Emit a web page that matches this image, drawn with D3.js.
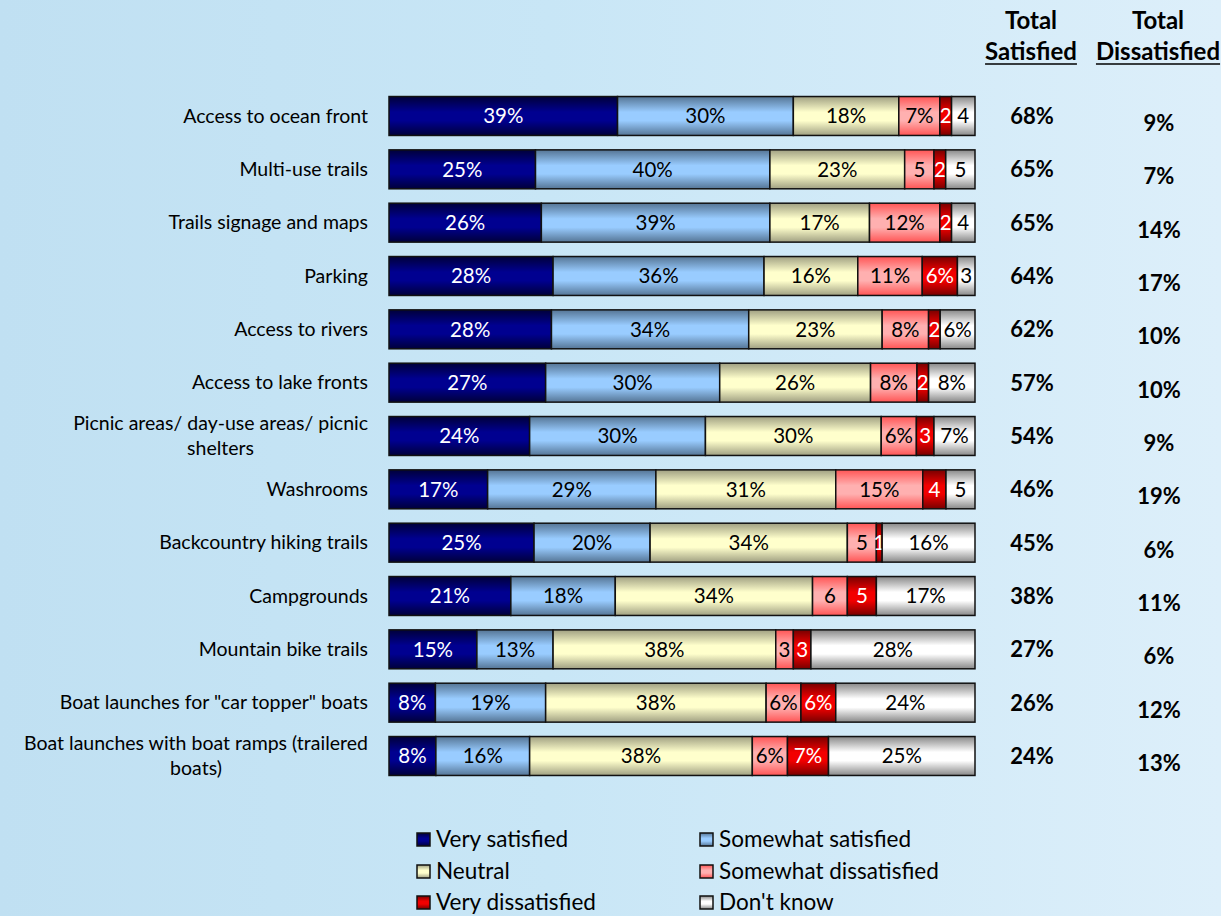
<!DOCTYPE html>
<html>
<head>
<meta charset="utf-8">
<script src="https://cdn.jsdelivr.net/npm/d3@7"></script>
<style>
  html, body { margin: 0; padding: 0; }
  body { width: 1221px; height: 916px; overflow: hidden; font-family: Lato, "Open Sans", sans-serif; }
</style>
</head>
<body>
<svg id="chart" width="1221" height="916"></svg>
<script>
// ---------- DATA ----------
const categories = [
  "Access to ocean front",
  "Multi-use trails",
  "Trails signage and maps",
  "Parking",
  "Access to rivers",
  "Access to lake fronts",
  "Picnic areas/ day-use areas/ picnic|shelters",
  "Washrooms",
  "Backcountry hiking trails",
  "Campgrounds",
  "Mountain bike trails",
  "Boat launches for \"car topper\" boats",
  "Boat launches with boat ramps (trailered|boats)"
];
const seriesNames = ["Very satisfied", "Somewhat satisfied", "Neutral", "Somewhat dissatisfied", "Very dissatisfied", "Don't know"];
const verySatisfied       = [39, 25, 26, 28, 28, 27, 24, 17, 25, 21, 15, 8, 8];
const somewhatSatisfied   = [30, 40, 39, 36, 34, 30, 30, 29, 20, 18, 13, 19, 16];
const neutral             = [18, 23, 17, 16, 23, 26, 30, 31, 34, 34, 38, 38, 38];
const somewhatDissatisfied= [7, 5, 12, 11, 8, 8, 6, 15, 5, 6, 3, 6, 6];
const veryDissatisfied    = [2, 2, 2, 6, 2, 2, 3, 4, 1, 5, 3, 6, 7];
const dontKnow            = [4, 5, 4, 3, 6, 8, 7, 5, 16, 17, 28, 24, 25];
// data labels as printed on the chart (small segments without "%")
const labelsSomewhatDis = ["7%", "5", "12%", "11%", "8%", "8%", "6%", "15%", "5", "6", "3", "6%", "6%"];
const labelsVeryDis     = ["2", "2", "2", "6%", "2", "2", "3", "4", "1", "5", "3", "6%", "7%"];
const labelsDontKnow    = ["4", "5", "4", "3", "6%", "8%", "7%", "5", "16%", "17%", "28%", "24%", "25%"];
const totalSatisfied    = [68, 65, 65, 64, 62, 57, 54, 46, 45, 38, 27, 26, 24];
const totalDissatisfied = [9, 7, 14, 17, 10, 10, 9, 19, 6, 11, 6, 12, 13];

// ---------- STYLE ----------
const fills = [
  {edge: "#00003a", mid: "#000090", text: "#ffffff"},
  {edge: "#557595", mid: "#99ccff", text: "#000000"},
  {edge: "#a0a082", mid: "#ffffcc", text: "#000000"},
  {edge: "#ff5555", mid: "#ffb0b0", text: "#000000"},
  {edge: "#780000", mid: "#f20000", text: "#ffffff"},
  {edge: "#888888", mid: "#ffffff", text: "#000000"}
];

const svg = d3.select("#chart");
const defs = svg.append("defs");

// background
const bg = defs.append("linearGradient").attr("id", "bg").attr("x1", 0).attr("x2", 1).attr("y1", 0).attr("y2", 0);
bg.append("stop").attr("offset", "0%").attr("stop-color", "#c0e0f2");
bg.append("stop").attr("offset", "45%").attr("stop-color", "#c8e6f6");
bg.append("stop").attr("offset", "100%").attr("stop-color", "#ddeffa");
svg.append("rect").attr("width", 1221).attr("height", 916).attr("fill", "url(#bg)");

fills.forEach((f, i) => {
  const g = defs.append("linearGradient").attr("id", "g" + i).attr("x1", 0).attr("x2", 0).attr("y1", 0).attr("y2", 1);
  g.append("stop").attr("offset", "0%").attr("stop-color", f.edge);
  g.append("stop").attr("offset", "40%").attr("stop-color", f.mid);
  g.append("stop").attr("offset", "62%").attr("stop-color", f.mid);
  g.append("stop").attr("offset", "100%").attr("stop-color", f.edge);
});

const rows = categories.map((c, i) => ({
  cat: c,
  s0: verySatisfied[i], s1: somewhatSatisfied[i], s2: neutral[i],
  s3: somewhatDissatisfied[i], s4: veryDissatisfied[i], s5: dontKnow[i]
}));
const keys = ["s0", "s1", "s2", "s3", "s4", "s5"];
const labelFor = (k, i) => {
  if (k === "s3") return labelsSomewhatDis[i];
  if (k === "s4") return labelsVeryDis[i];
  if (k === "s5") return labelsDontKnow[i];
  return rows[i][k] + "%";
};

const stacked = d3.stack().keys(keys).offset(d3.stackOffsetExpand)(rows);

const x = d3.scaleLinear().domain([0, 1]).range([389, 975]);
const y = d3.scaleBand().domain(categories).range([89.33, 782.67]).paddingInner(0.27).paddingOuter(0.135);

const gBars = svg.append("g");
stacked.forEach((layer, si) => {
  const gl = gBars.append("g");
  gl.selectAll("rect").data(layer).join("rect")
    .attr("x", d => x(d[0]))
    .attr("y", d => y(d.data.cat))
    .attr("width", d => x(d[1]) - x(d[0]))
    .attr("height", y.bandwidth())
    .attr("fill", "url(#g" + si + ")")
    .attr("stroke", "#111")
    .attr("stroke-width", 1.5);
  gl.selectAll("text").data(layer).join("text")
    .attr("x", d => (x(d[0]) + x(d[1])) / 2)
    .attr("y", d => y(d.data.cat) + y.bandwidth() / 2)
    .attr("dy", "0.36em")
    .attr("text-anchor", "middle")
    .attr("font-size", 20.5)
    .attr("fill", fills[si].text)
    .text((d, i) => labelFor(keys[si], i));
});

// category labels
const catSize = 19.5;
const gCat = svg.append("g");
categories.forEach(c => {
  const lines = c.split("|");
  const cy = y(c) + y.bandwidth() / 2;
  const t = gCat.append("text")
    .attr("font-size", catSize)
    .attr("fill", "#000");
  if (lines.length === 1) {
    t.attr("x", 368).attr("y", cy).attr("dy", "0.34em").attr("text-anchor", "end").text(lines[0]);
  } else {
    t.attr("x", 368).attr("y", cy - 13).attr("dy", "0.34em").attr("text-anchor", "end").text(lines[0]);
    const w = t.node().getComputedTextLength();
    gCat.append("text")
      .attr("font-size", catSize).attr("fill", "#000")
      .attr("x", 368 - w / 2).attr("y", cy + 12).attr("dy", "0.34em")
      .attr("text-anchor", "middle").text(lines[1]);
  }
});

// totals
const gTot = svg.append("g").attr("font-weight", "bold").attr("font-size", 22).attr("text-anchor", "middle");
gTot.selectAll("text.sat").data(totalSatisfied).join("text").attr("class", "sat")
  .attr("x", 1032).attr("y", (d, i) => y(categories[i]) + y.bandwidth() / 2).attr("dy", "0.36em")
  .text(d => d + "%");
gTot.selectAll("text.dis").data(totalDissatisfied).join("text").attr("class", "dis")
  .attr("x", 1159).attr("y", (d, i) => y(categories[i]) + y.bandwidth() / 2 + 7).attr("dy", "0.36em")
  .text(d => d + "%");

// headers
const headers = [["Total", "Satisfied", 1031], ["Total", "Dissatisfied", 1158]];
headers.forEach(h => {
  svg.append("text").attr("x", h[2]).attr("y", 29).attr("text-anchor", "middle")
    .attr("font-weight", "bold").attr("font-size", 24).text(h[0]);
  const t2 = svg.append("text").attr("x", h[2]).attr("y", 60).attr("text-anchor", "middle")
    .attr("font-weight", "bold").attr("font-size", 24).text(h[1]);
  const w = t2.node().getComputedTextLength();
  svg.append("line").attr("x1", h[2] - w / 2).attr("x2", h[2] + w / 2)
    .attr("y1", 64).attr("y2", 64).attr("stroke", "#000").attr("stroke-width", 1.5);
});

// legend
const legPos = [[417, 839], [700, 839], [417, 871], [700, 871], [417, 902], [700, 902]];
const gLeg = svg.append("g");
seriesNames.forEach((n, i) => {
  const [lx, ly] = legPos[i];
  gLeg.append("rect").attr("x", lx).attr("y", ly - 6).attr("width", 13).attr("height", 13)
    .attr("fill", "url(#g" + i + ")").attr("stroke", "#111").attr("stroke-width", 1.5);
  gLeg.append("text").attr("x", lx + 19).attr("y", ly).attr("dy", "0.36em")
    .attr("font-size", 22.5).attr("fill", "#000").text(n);
});
</script>
</body>
</html>
